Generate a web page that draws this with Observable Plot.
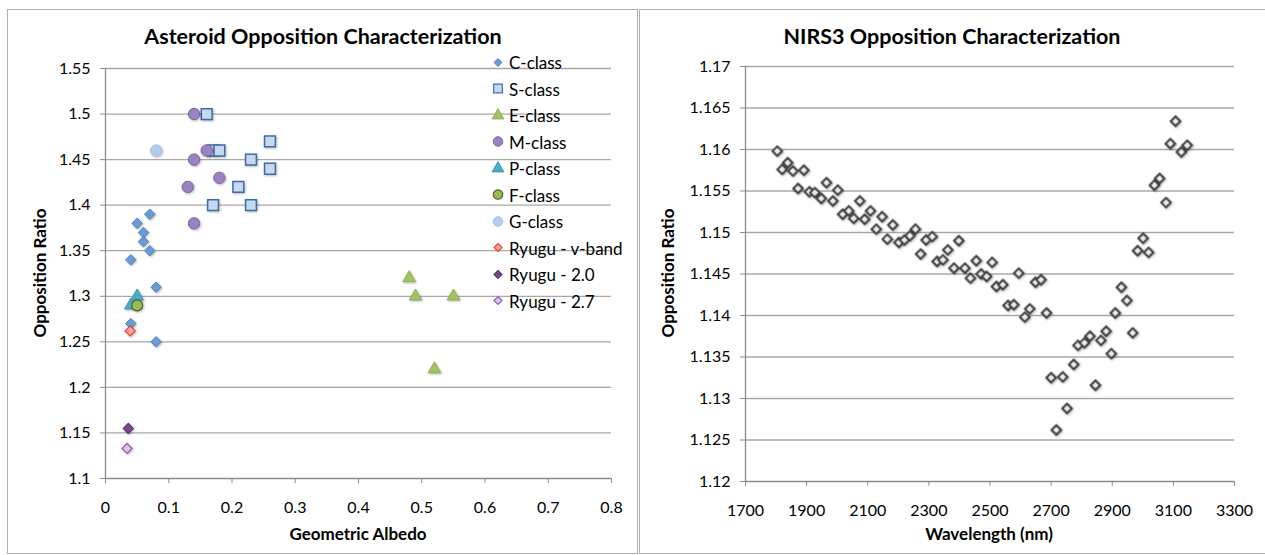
<!DOCTYPE html>
<html>
<head>
<meta charset="utf-8">
<script src="https://cdn.jsdelivr.net/npm/d3@7"></script>
<script src="https://cdn.jsdelivr.net/npm/@observablehq/plot@0.6"></script>
<style>
  body { margin: 0; background: #fff; font-family: Lato, "Open Sans", sans-serif; color: #000; }
  #page { position: relative; width: 1265px; height: 555px; overflow: hidden; }
  .panel { position: absolute; top: 10px; height: 543px; outline: 1.5px solid #b0b0b0; background: #fff; }
  .panel svg { position: absolute; left: 0; top: 0; }
  .panel g[aria-label="dot"] { filter: drop-shadow(1px 1.5px 1px rgba(0,0,0,0.28)); }
  .title { position: absolute; font-weight: bold; font-size: 21.5px; white-space: nowrap; transform: translate(-50%, -50%); }
  .axtitle { position: absolute; font-weight: bold; font-size: 17px; white-space: nowrap; transform: translate(-50%, -50%); }
  .axtitle.rot { transform: translate(-50%, -50%) rotate(-90deg); }
  .legend-item { position: absolute; font-size: 17px; white-space: nowrap; display: flex; align-items: center; transform: translateY(-50%); }
  .legend-item svg { position: static; margin-right: 4px; overflow: visible; }
</style>
</head>
<body>
<div id="page">
  <div class="panel" id="left" style="left:8px;width:629px;">
    <div class="title" style="left:315px;top:26px;">Asteroid Opposition Characterization</div>
    <div class="axtitle rot" style="left:31px;top:263px;">Opposition Ratio</div>
    <div class="axtitle" style="left:350px;top:523px;">Geometric Albedo</div>
  </div>
  <div class="panel" id="right" style="left:640px;width:625px;">
    <div class="title" style="left:312px;top:26px;">NIRS3 Opposition Characterization</div>
    <div class="axtitle rot" style="left:27px;top:263px;">Opposition Ratio</div>
    <div class="axtitle" style="left:349px;top:523px;">Wavelength (nm)</div>
  </div>
</div>
<script>
// ---- Asteroid classes: geometric albedo vs. opposition ratio ----
const cClass = [
  {albedo: 0.07, ratio: 1.39}, {albedo: 0.05, ratio: 1.38}, {albedo: 0.06, ratio: 1.37},
  {albedo: 0.06, ratio: 1.36}, {albedo: 0.07, ratio: 1.35}, {albedo: 0.04, ratio: 1.34},
  {albedo: 0.08, ratio: 1.31}, {albedo: 0.04, ratio: 1.27}, {albedo: 0.08, ratio: 1.25}
];
const sClass = [
  {albedo: 0.16, ratio: 1.50}, {albedo: 0.17, ratio: 1.46}, {albedo: 0.18, ratio: 1.46},
  {albedo: 0.26, ratio: 1.47}, {albedo: 0.23, ratio: 1.45}, {albedo: 0.26, ratio: 1.44},
  {albedo: 0.21, ratio: 1.42}, {albedo: 0.17, ratio: 1.40}, {albedo: 0.23, ratio: 1.40}
];
const eClass = [
  {albedo: 0.48, ratio: 1.32}, {albedo: 0.49, ratio: 1.30},
  {albedo: 0.55, ratio: 1.30}, {albedo: 0.52, ratio: 1.22}
];
const mClass = [
  {albedo: 0.14, ratio: 1.50}, {albedo: 0.16, ratio: 1.46}, {albedo: 0.14, ratio: 1.45},
  {albedo: 0.18, ratio: 1.43}, {albedo: 0.13, ratio: 1.42}, {albedo: 0.14, ratio: 1.38}
];
const pClass = [{albedo: 0.05, ratio: 1.30}, {albedo: 0.04, ratio: 1.29}];
const fClass = [{albedo: 0.05, ratio: 1.29}];
const gClass = [{albedo: 0.08, ratio: 1.46}];
const ryuguVBand = [{albedo: 0.039, ratio: 1.262}];
const ryugu20 = [{albedo: 0.036, ratio: 1.155}];
const ryugu27 = [{albedo: 0.034, ratio: 1.133}];

const albedoTicks = [0, 0.1, 0.2, 0.3, 0.4, 0.5, 0.6, 0.7, 0.8];
const ratioTicks = [1.1, 1.15, 1.2, 1.25, 1.3, 1.35, 1.4, 1.45, 1.5, 1.55];

// ---- NIRS3 spectrum: wavelength vs. opposition ratio ----
const wavelengthNm = [
  1804, 1820, 1838, 1855, 1872, 1891, 1909, 1927, 1948, 1965, 1986, 2002, 2018, 2038, 2054,
  2074, 2090, 2109, 2128, 2147, 2164, 2182, 2202, 2220, 2238, 2256, 2273, 2291, 2311, 2327,
  2346, 2362, 2382, 2398, 2418, 2436, 2455, 2471, 2489, 2507, 2521, 2542, 2559, 2578, 2594,
  2614, 2630, 2649, 2667, 2685, 2700, 2717, 2738, 2752, 2774, 2788, 2809, 2827, 2845, 2863,
  2880, 2897, 2910, 2930, 2948, 2967, 2983, 3001, 3019, 3038, 3055, 3076, 3090, 3107, 3126, 3145
];
const nirsRatio = [
  1.1598, 1.1576, 1.1584, 1.1574, 1.1553, 1.1575, 1.1549, 1.1548, 1.1541, 1.1560, 1.1538, 1.1551, 1.1522, 1.1526, 1.1517,
  1.1538, 1.1516, 1.1526, 1.1504, 1.1519, 1.1492, 1.1509, 1.1488, 1.1491, 1.1496, 1.1504, 1.1474, 1.1491, 1.1495, 1.1465,
  1.1467, 1.1479, 1.1457, 1.1490, 1.1457, 1.1445, 1.1466, 1.1450, 1.1447, 1.1464, 1.1435, 1.1437, 1.1412, 1.1413, 1.1451,
  1.1398, 1.1408, 1.1440, 1.1443, 1.1403, 1.1325, 1.1262, 1.1326, 1.1288, 1.1341, 1.1364, 1.1367, 1.1375, 1.1316, 1.1370,
  1.1381, 1.1354, 1.1403, 1.1434, 1.1418, 1.1379, 1.1478, 1.1493, 1.1476, 1.1557, 1.1565, 1.1536, 1.1607, 1.1634, 1.1597, 1.1605
];
const wavelengthTicks = [1700, 1900, 2100, 2300, 2500, 2700, 2900, 3100, 3300];
const nirsRatioTicks = [1.12, 1.125, 1.13, 1.135, 1.14, 1.145, 1.15, 1.155, 1.16, 1.165, 1.17];

// Series drawing order and marker styles (later series draw on top)
const series = [
  {name: "C-class",        data: cClass,     symbol: "diamond2", r: 4.7, fill: "#6a9bd6", stroke: "#4f81bd", sw: 1},
  {name: "S-class",        data: sClass,     symbol: "square",   r: 6.1, fill: "#c6d9f1", stroke: "#3b6ea8", sw: 1.5},
  {name: "E-class",        data: eClass,     symbol: "triangle", r: 4.7, fill: "#a3c266", stroke: "#8fb052", sw: 1},
  {name: "M-class",        data: mClass,     symbol: "circle",   r: 5.7, fill: "#9a83bf", stroke: "#7d64a2", sw: 1},
  {name: "P-class",        data: pClass,     symbol: "triangle", r: 4.7, fill: "#4bacc6", stroke: "#3a98b2", sw: 1},
  {name: "F-class",        data: fClass,     symbol: "circle",   r: 5.5, fill: "#9bbb59", stroke: "#4f6228", sw: 1.2},
  {name: "G-class",        data: gClass,     symbol: "circle",   r: 5.6, fill: "#b4cdee", stroke: "#a2bfe6", sw: 1},
  {name: "Ryugu - v-band", data: ryuguVBand, symbol: "diamond2", r: 4.5, fill: "#f2aaa3", stroke: "#ff3b2f", sw: 1.3},
  {name: "Ryugu - 2.0",    data: ryugu20,    symbol: "diamond2", r: 4.5, fill: "#7a4b8c", stroke: "#5d356f", sw: 1.2},
  {name: "Ryugu - 2.7",    data: ryugu27,    symbol: "diamond2", r: 4.5, fill: "#d8c6e6", stroke: "#9a5fb2", sw: 1.3}
];

const gridColor = "#a8a8a8";
const axisColor = "#8c8c8c";
const baseStyle = {fontFamily: "Lato, 'Open Sans', sans-serif", fontSize: "16px", color: "#000", background: "transparent", overflow: "visible"};

// Left chart
const left = Plot.plot({
  width: 629, height: 543,
  marginLeft: 97, marginRight: 26, marginTop: 58, marginBottom: 75,
  style: baseStyle,
  x: {domain: [0, 0.8]},
  y: {domain: [1.1, 1.55]},
  marks: [
    Plot.ruleY(ratioTicks.slice(1), {stroke: gridColor, strokeWidth: 1.3}),
    Plot.axisX({ticks: albedoTicks, tickSize: 5, tickPadding: 18, stroke: axisColor, label: null, tickFormat: d => String(d)}),
    Plot.axisY({ticks: ratioTicks, tickSize: 5, tickPadding: 10, stroke: axisColor, label: null, tickFormat: d => String(d)}),
    Plot.ruleY([1.1], {stroke: axisColor, strokeWidth: 1.3}),
    Plot.ruleX([0], {stroke: axisColor, strokeWidth: 1.3}),
    ...series.map(s => Plot.dot(s.data, {
      x: "albedo", y: "ratio", symbol: s.symbol, r: s.r,
      fill: s.fill, stroke: s.stroke, strokeWidth: s.sw
    }))
  ]
});
document.getElementById("left").appendChild(left);

// Legend for the left chart
const leftPanel = document.getElementById("left");
series.forEach((s, i) => {
  const item = document.createElement("div");
  item.className = "legend-item";
  item.style.left = "483px";
  item.style.top = (52 + i * 26.5) + "px";
  const symType = {diamond2: d3.symbolDiamond2, square: d3.symbolSquare, triangle: d3.symbolTriangle, circle: d3.symbolCircle}[s.symbol];
  const sz = {diamond2: 40, square: 75, triangle: 60, circle: 70}[s.symbol];
  const path = d3.symbol(symType, sz)();
  item.innerHTML = `<svg width="14" height="14" viewBox="-7 -7 14 14"><path d="${path}" fill="${s.fill}" stroke="${s.stroke}" stroke-width="${Math.min(s.sw, 1.2)}"/></svg><span>${s.name}</span>`;
  leftPanel.appendChild(item);
});

// Right chart
const nirs = wavelengthNm.map((w, i) => ({wavelength: w, ratio: nirsRatio[i]}));
const right = Plot.plot({
  width: 625, height: 543,
  marginLeft: 105, marginRight: 31, marginTop: 56, marginBottom: 72,
  style: baseStyle,
  x: {domain: [1700, 3300]},
  y: {domain: [1.12, 1.17]},
  marks: [
    Plot.ruleY(nirsRatioTicks.slice(1), {stroke: gridColor, strokeWidth: 1.3}),
    Plot.axisX({ticks: wavelengthTicks, tickSize: 5, tickPadding: 18, stroke: axisColor, label: null, tickFormat: d => String(d)}),
    Plot.axisY({ticks: nirsRatioTicks, tickSize: 5, tickPadding: 10, stroke: axisColor, label: null, tickFormat: d => String(d)}),
    Plot.ruleY([1.12], {stroke: axisColor, strokeWidth: 1.3}),
    Plot.ruleX([1700], {stroke: axisColor, strokeWidth: 1.3}),
    Plot.dot(nirs, {x: "wavelength", y: "ratio", symbol: "diamond2", r: 4.3, fill: "#ececec", stroke: "#3c3c3c", strokeWidth: 2})
  ]
});
document.getElementById("right").appendChild(right);
</script>
</body>
</html>
